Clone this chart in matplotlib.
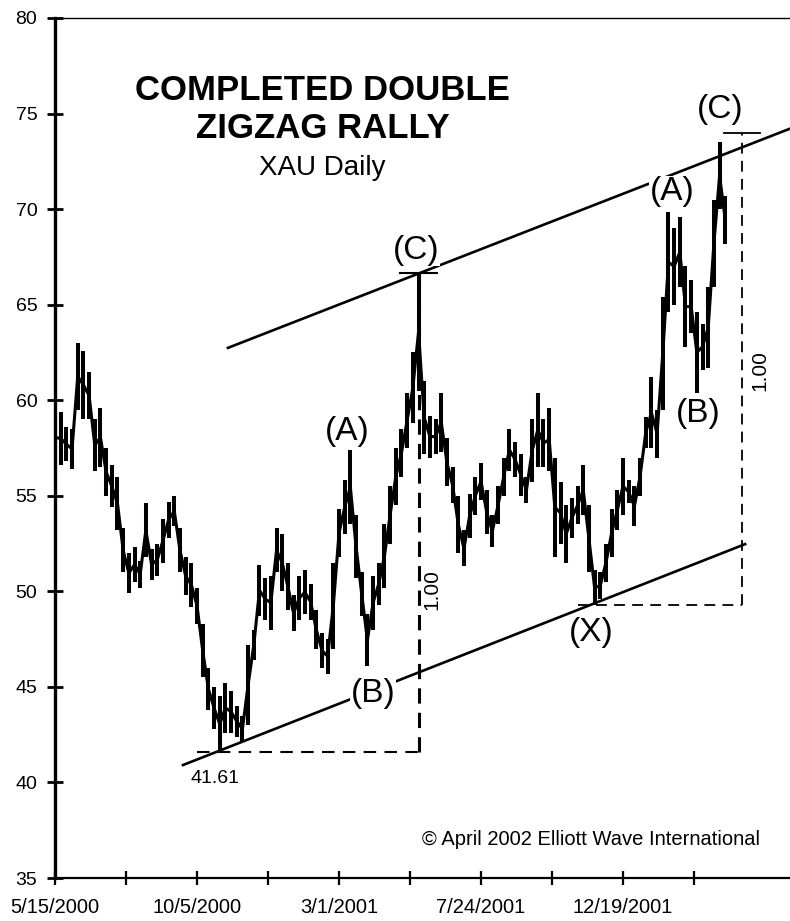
import numpy as np
import matplotlib
matplotlib.use("Agg")
import matplotlib.pyplot as plt

plt.rcParams['font.family'] = ['Liberation Sans', 'DejaVu Sans']

# XAU daily, sampled every 4 trading days from 5/15/2000 (high / low)
day = np.arange(0, 476, 4)
high = [59.3, 59.4, 58.6, 58.5, 63.0, 62.6, 61.5, 59.0, 59.6, 57.5,
        56.6, 56.0, 53.3, 52.0, 52.3, 51.6, 54.6, 52.2, 52.5, 53.8,
        54.7, 55.0, 53.3, 51.8, 51.5, 50.2, 48.3, 46.0, 45.0, 44.5,
        45.2, 44.8, 44.0, 43.5, 47.2, 48.0, 51.4, 50.7, 50.8, 53.3,
        53.0, 51.5, 49.8, 50.8, 51.1, 50.4, 49.0, 47.8, 47.5, 51.5,
        54.3, 55.8, 57.4, 54.0, 51.0, 48.8, 50.8, 51.5, 53.5, 55.5,
        57.5, 58.5, 60.4, 62.5, 66.65, 61.0, 59.2, 59.0, 60.4, 58.0,
        56.5, 55.0, 53.2, 55.1, 56.0, 56.7, 55.3, 54.0, 55.5, 57.0,
        58.5, 57.8, 57.2, 56.0, 59.0, 60.4, 59.0, 59.6, 57.0, 55.7,
        54.5, 54.9, 55.5, 56.6, 54.5, 51.1, 51.0, 52.5, 54.3, 55.3,
        57.0, 55.8, 55.5, 57.0, 59.1, 61.2, 59.5, 65.4, 69.85, 69.0,
        69.6, 67.0, 66.3, 64.6, 64.0, 65.9, 70.5, 73.5, 70.7]
low = [56.8, 56.6, 56.8, 56.4, 59.5, 59.0, 59.0, 56.3, 56.5, 55.0,
       54.4, 53.2, 51.0, 49.9, 50.5, 50.2, 51.8, 50.6, 50.8, 51.5,
       52.8, 53.4, 51.0, 49.8, 49.2, 48.3, 45.5, 43.8, 42.8, 41.61,
       42.6, 42.6, 42.4, 42.1, 43.0, 46.4, 48.7, 48.5, 48.0, 51.0,
       50.0, 49.0, 47.9, 48.5, 48.8, 48.5, 47.0, 46.0, 45.7, 47.0,
       51.8, 53.0, 53.5, 50.7, 48.7, 46.1, 48.0, 49.3, 50.2, 52.5,
       54.5, 56.0, 57.5, 58.8, 60.5, 57.2, 57.0, 57.2, 57.3, 55.5,
       54.6, 52.0, 51.3, 52.8, 54.0, 54.8, 53.0, 52.3, 53.5, 55.0,
       56.3, 56.0, 55.0, 54.6, 55.7, 56.5, 56.5, 56.3, 51.8, 52.5,
       51.5, 52.8, 53.5, 54.0, 51.0, 49.28, 49.6, 50.5, 51.8, 53.2,
       54.0, 54.6, 53.4, 55.0, 57.5, 57.5, 57.0, 59.5, 64.6, 65.0,
       65.9, 62.8, 63.5, 60.4, 61.6, 61.7, 65.9, 70.0, 68.2]

# channel lines (day, value)
upper_day = [121.8, 517.6]
upper_val = [62.74, 74.21]
lower_day = [90.1, 486.0]
lower_val = [40.91, 52.47]

# wave measurements
low_start = 41.61
x_low = 49.28
c2_target = 73.98

tick_days = np.arange(0, 451, 50)
tick_labels = ['5/15/2000', '', '10/5/2000', '', '3/1/2001', '',
               '7/24/2001', '', '12/19/2001', '']

high = np.array(high)
low = np.array(low)

fig = plt.figure(figsize=(7.9, 9.21), dpi=100)
ax = fig.add_axes([55 / 790, 43 / 921, 735 / 790, 860 / 921])

ax.vlines(day, low, high, color='black', lw=2.9, zorder=3)
ax.plot(day, (high + low) / 2, color='black', lw=2.2, zorder=3)

# channel
ax.plot(upper_day, upper_val, color='black', lw=1.9, zorder=2)
ax.plot(lower_day, lower_val, color='black', lw=1.9, zorder=2)

# first leg measurement
i_low = int(np.argmin(low[:60]))
i_c1 = int(np.argmax(high[:100]))
c1_day, c1_val = day[i_c1], high[i_c1]
ax.plot([day[i_low] - 16, c1_day], [low_start, low_start], color='black',
        lw=1.5, dashes=(6, 4), zorder=2)
ax.plot([c1_day, c1_day], [low_start, c1_val], color='black',
        lw=2.2, dashes=(5, 3), zorder=2)
ax.plot([c1_day - 13, c1_day + 13], [c1_val, c1_val], color='black', lw=1.5)

# second leg measurement
i_x = int(np.argmin(low[80:])) + 80
proj_day = 483.8
ax.plot([day[i_x] - 12, proj_day], [x_low, x_low], color='black',
        lw=1.3, dashes=(6, 4), zorder=2)
ax.plot([proj_day, proj_day], [x_low, c2_target], color='black',
        lw=1.3, dashes=(6, 4), zorder=2)
ax.plot([proj_day - 13, proj_day + 13], [c2_target, c2_target],
        color='black', lw=1.3)

# wave labels
lab = dict(fontsize=24, ha='center', va='center', zorder=5,
           bbox=dict(facecolor='white', edgecolor='none', pad=0.5))
ax.text(254.2, 67.86, '(C)', **lab)
ax.text(205.6, 58.34, '(A)', **lab)
ax.text(224.0, 44.68, '(B)', **lab)
ax.text(377.5, 47.82, '(X)', **lab)
ax.text(434.5, 70.90, '(A)', **lab)
ax.text(452.8, 59.33, '(B)', **lab)
ax.text(468.3, 75.19, '(C)', **lab)

ax.text(265.5, 50.07, '1.00', fontsize=15, rotation=90, ha='center', va='center')
ax.text(496.5, 61.53, '1.00', fontsize=15, rotation=90, ha='center', va='center')
ax.text(112.7, 40.23, '41.61', fontsize=14, ha='center', va='center')

ax.text(188.5, 76.23, 'COMPLETED DOUBLE', fontsize=25, fontweight='bold',
        ha='center', va='center')
ax.text(188.5, 74.24, 'ZIGZAG RALLY', fontsize=25, fontweight='bold',
        ha='center', va='center')
ax.text(188.5, 72.15, 'XAU Daily', fontsize=20, ha='center', va='center')
ax.text(496.5, 37.0, '\u00a9 April 2002 Elliott Wave International',
        fontsize=14.5, ha='right', va='center')

# axes
ax.set_xlim(0, 517.6)
ax.set_ylim(35, 80)
ax.set_xticks(tick_days)
ax.set_xticklabels(tick_labels, fontsize=14.5)
ax.set_yticks(np.arange(35, 81, 5))
ax.tick_params(axis='y', direction='inout', length=11.5, width=2, pad=7, labelsize=14)
ax.tick_params(axis='x', direction='inout', length=9.5, width=1.6, pad=10)
ax.spines['right'].set_visible(False)
ax.spines['left'].set_linewidth(2.4)
ax.spines['bottom'].set_linewidth(1.6)
ax.spines['top'].set_linewidth(1.0)

fig.savefig('out.png', dpi=100)
